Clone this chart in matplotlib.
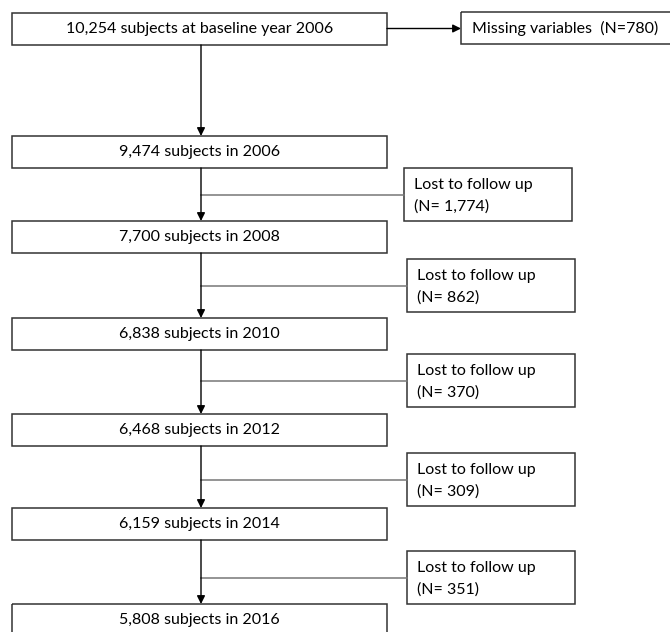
import matplotlib.pyplot as plt
from matplotlib.patches import Rectangle

# --- Flowchart content ---
top_label = "10,254 subjects at baseline year 2006"
missing_label = "Missing variables  (N=780)"
main_labels = ["9,474 subjects in 2006", "7,700 subjects in 2008",
               "6,838 subjects in 2010", "6,468 subjects in 2012",
               "6,159 subjects in 2014", "5,808 subjects in 2016"]
lost_counts = ["1,774", "862", "370", "309", "351"]

# --- Layout (pixel coordinates, y grows downward) ---
main_tops = [136, 221, 318, 414, 508, 604]
lost_tops = [168, 259, 354, 453, 551]
lost_lefts = [404, 407, 407, 407, 407]
main_x0, main_x1, main_h = 12, 387, 32
lost_w, lost_h = 168, 53
trunk_x = 201

plt.rcParams['font.family'] = ['Lato', 'DejaVu Sans']
fig = plt.figure(figsize=(6.7, 6.32), dpi=100)
ax = fig.add_axes([0, 0, 1, 1])
ax.set_xlim(0, 670)
ax.set_ylim(632, 0)
ax.axis('off')

edge = '#333333'
fs = 11.5


def box(x0, y0, w, h):
    ax.add_patch(Rectangle((x0, y0), w, h, fill=False, edgecolor=edge, lw=1.1))


def arrow(x0, y0, x1, y1):
    ax.annotate('', xy=(x1, y1), xytext=(x0, y0),
                arrowprops=dict(arrowstyle='-|>', color='black', lw=1,
                                mutation_scale=12, shrinkA=0, shrinkB=0))


# top box and missing box
box(main_x0, 13, main_x1 - main_x0, 32)
ax.text((main_x0 + main_x1) / 2, 29, top_label, ha='center', va='center', fontsize=fs)
box(461, 12, 215, 32)
ax.text(472, 28, missing_label, ha='left', va='center', fontsize=fs)
arrow(main_x1, 28.5, 461, 28.5)
arrow(trunk_x, 45, trunk_x, main_tops[0])

# main boxes
for top, label in zip(main_tops, main_labels):
    box(main_x0, top, main_x1 - main_x0, main_h)
    ax.text((main_x0 + main_x1) / 2, top + main_h / 2, label,
            ha='center', va='center', fontsize=fs)

# lost-to-follow-up boxes with connectors
for i, (top, left, n) in enumerate(zip(lost_tops, lost_lefts, lost_counts)):
    box(left, top, lost_w, lost_h)
    ax.text(left + 10, top + 17, "Lost to follow up", ha='left', va='center', fontsize=fs)
    ax.text(left + 10, top + 39, f"(N= {n})", ha='left', va='center', fontsize=fs)
    mid = top + lost_h / 2
    ax.plot([trunk_x, left], [mid, mid], color='#777777', lw=1.1)
    arrow(trunk_x, main_tops[i] + main_h, trunk_x, main_tops[i + 1])

fig.savefig('out.png', dpi=100)
